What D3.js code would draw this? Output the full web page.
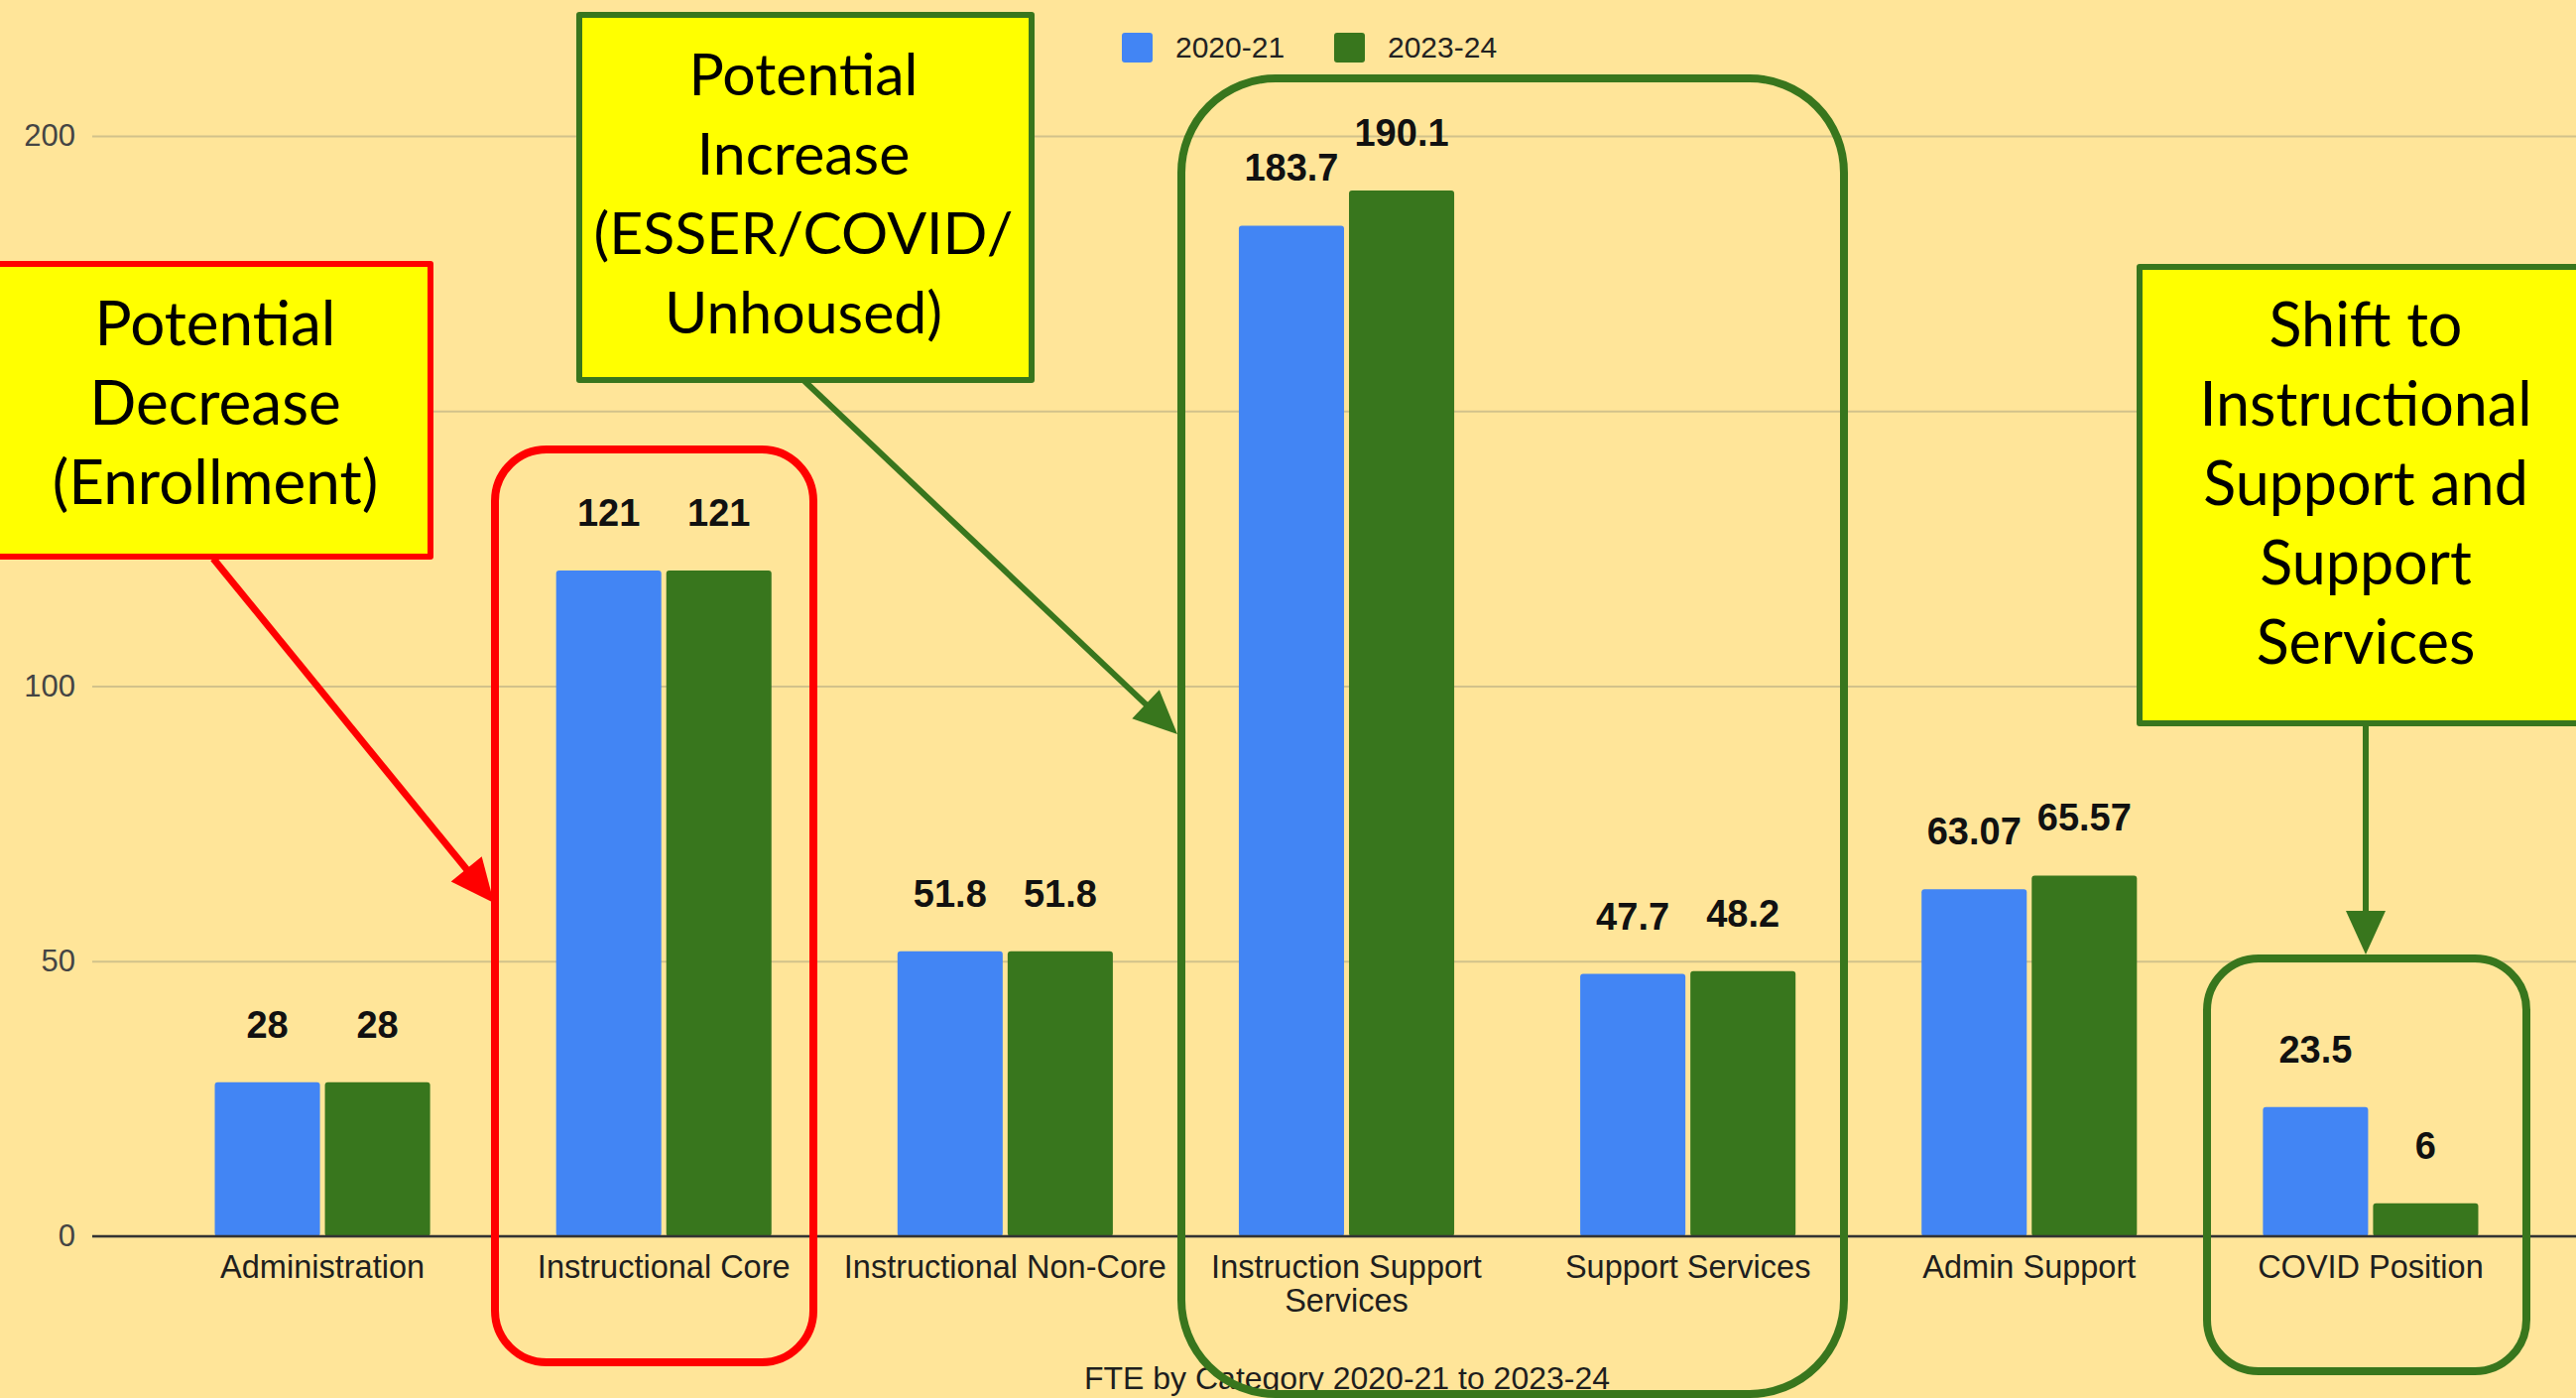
<!DOCTYPE html>
<html><head><meta charset="utf-8">
<script src="https://cdn.jsdelivr.net/npm/d3@7"></script>
<style>html,body{margin:0;padding:0;background:#FFE599;overflow:hidden}</style>
</head><body>
<svg id="c" width="2597" height="1409"></svg>
<script>
// ---- data ----
const categories = ["Administration","Instructional Core","Instructional Non-Core","Instruction Support Services","Support Services","Admin Support","COVID Position"];
const series = ["2020-21","2023-24"];
const values2020 = [28,121,51.8,183.7,47.7,63.07,23.5];
const values2023 = [28,121,51.8,190.1,48.2,65.57,6];
const yTicks = [0,50,100,150,200];
const seriesColors = ["#4285F4","#38761D"];
const chartTitle = "FTE by Category 2020-21 to 2023-24";
const noteDecrease = ["Potential","Decrease","(Enrollment)"];
const noteIncrease = ["Potential","Increase","(ESSER/COVID/","Unhoused)"];
const noteShift = ["Shift to","Instructional","Support and","Support","Services"];

// ---- layout ----
const W = 2597, H = 1409;
const svg = d3.select("#c");
svg.append("rect").attr("width",W).attr("height",H).attr("fill","#FFE599");

const x0 = d3.scaleBand().domain(categories).range([153, 2562]).paddingInner(0).paddingOuter(0);
const x1 = d3.scaleBand().domain(series).range([0, x0.bandwidth()]).paddingInner(0.045).paddingOuter(0.572);
const y = d3.scaleLinear().domain([0,200]).range([1246,137]);

const fontSans = "'Liberation Sans', Arial, sans-serif";
const fontNote = "Lato, 'Open Sans', sans-serif";

// y axis + gridlines
const gy = svg.append("g").attr("transform","translate(93,0)")
  .call(d3.axisLeft(y).tickValues(yTicks).tickSize(-(W-93)).tickPadding(17));
gy.select(".domain").remove();
gy.selectAll(".tick line").attr("stroke","#d2c28b").attr("stroke-width",2);
gy.selectAll(".tick text").attr("font-family",fontSans).attr("font-size",31).attr("fill","#444");

// bars
const rows = categories.map((c,i)=>({cat:c, vals:[values2020[i], values2023[i]]}));
const grp = svg.append("g").selectAll("g").data(rows).join("g")
  .attr("transform", d=>`translate(${x0(d.cat)},0)`);
grp.selectAll("rect").data(d=>d.vals.map((v,j)=>({s:series[j], v, j}))).join("rect")
  .attr("x", d=>x1(d.s)).attr("width", x1.bandwidth())
  .attr("y", d=>y(d.v)).attr("height", d=>y(0)-y(d.v))
  .attr("rx",3).attr("fill", d=>seriesColors[d.j]);
grp.selectAll("text").data(d=>d.vals.map((v,j)=>({s:series[j], v, j}))).join("text")
  .attr("x", d=>x1(d.s)+x1.bandwidth()/2).attr("y", d=>y(d.v)-45)
  .attr("text-anchor","middle").attr("font-family",fontSans).attr("font-weight","bold")
  .attr("font-size",38).attr("fill","#111").text(d=>String(d.v));

// x axis
svg.append("line").attr("x1",93).attr("x2",W).attr("y1",y(0)).attr("y2",y(0))
  .attr("stroke","#333").attr("stroke-width",2.5);
const gx = svg.append("g").attr("transform",`translate(0,${y(0)})`)
  .call(d3.axisBottom(x0).tickSize(0));
gx.select(".domain").remove();
gx.selectAll(".tick text").attr("font-family",fontSans).attr("font-size",32.5).attr("fill","#1e1e1e")
  .each(function(d){
    const t = d3.select(this); const words = d.split(" ");
    t.text(null).attr("dy",null).attr("y",null);
    let lines=[], line=[];
    const maxW = x0.step()-6;
    const probe = t.append("tspan");
    words.forEach(w=>{
      line.push(w); probe.text(line.join(" "));
      if (probe.node().getComputedTextLength()>maxW && line.length>1){ line.pop(); lines.push(line.join(" ")); line=[w]; }
    });
    lines.push(line.join(" ")); probe.remove();
    lines.forEach((l,k)=>t.append("tspan").attr("x",0).attr("y",42+k*34).text(l));
  });

// legend
const lg = svg.append("g");
const legendX = [1131, 1345];
series.forEach((s,i)=>{
  lg.append("rect").attr("x",legendX[i]).attr("y",33).attr("width",31).attr("height",30).attr("rx",3).attr("fill",seriesColors[i]);
  lg.append("text").attr("x",legendX[i]+54).attr("y",58).attr("font-family",fontSans).attr("font-size",30).attr("fill","#222").text(s);
});

// title
svg.append("text").attr("x",1358).attr("y",1400).attr("text-anchor","middle")
  .attr("font-family",fontSans).attr("font-size",32).attr("fill","#1e1e1e").text(chartTitle);

// ---- annotations ----
const RED = "#FF0000", GREEN = "#38761D", YEL = "#FFFF00";
function rrect(x,yy,w,h,r,col){
  svg.append("rect").attr("x",x).attr("y",yy).attr("width",w).attr("height",h).attr("rx",r)
    .attr("fill","none").attr("stroke",col).attr("stroke-width",8);
}
rrect(499, 453, 321, 920, 52, RED);
rrect(1191, 79, 668, 1326, 95, GREEN);
rrect(2225, 966, 322, 416, 52, GREEN);

function arrow(xa,ya,xb,yb,col,w){
  const ang = Math.atan2(yb-ya, xb-xa), L=44, hw=20;
  const bx = xb - L*Math.cos(ang), by = yb - L*Math.sin(ang);
  svg.append("line").attr("x1",xa).attr("y1",ya).attr("x2",bx+6*Math.cos(ang)).attr("y2",by+6*Math.sin(ang))
    .attr("stroke",col).attr("stroke-width",w);
  const px = -Math.sin(ang)*hw, py = Math.cos(ang)*hw;
  svg.append("polygon").attr("points",`${xb},${yb} ${bx+px},${by+py} ${bx-px},${by-py}`).attr("fill",col);
}
arrow(215,563,498,910,RED,7);
arrow(811,384,1187,740,GREEN,6);
arrow(2385,730,2385,962,GREEN,6);

function note(x,yy,w,h,col,lines,cx,base0,fs){
  svg.append("rect").attr("x",x).attr("y",yy).attr("width",w).attr("height",h)
    .attr("fill",YEL).attr("stroke",col).attr("stroke-width",6).attr("stroke-linejoin","round");
  const t = svg.append("text").attr("text-anchor","middle").attr("font-family",fontNote)
    .attr("font-size",fs).attr("fill","#000");
  lines.forEach((l,k)=>t.append("tspan").attr("x",cx).attr("y",base0+k*80).text(l));
}
note(-3, 266, 437, 295, RED, noteDecrease, 217, 348, 62);
note(584, 15, 456, 368, GREEN, noteIncrease, 810, 96, 59);
note(2157, 269, 460, 460, GREEN, noteShift, 2385, 349, 61);
</script>
</body></html>
